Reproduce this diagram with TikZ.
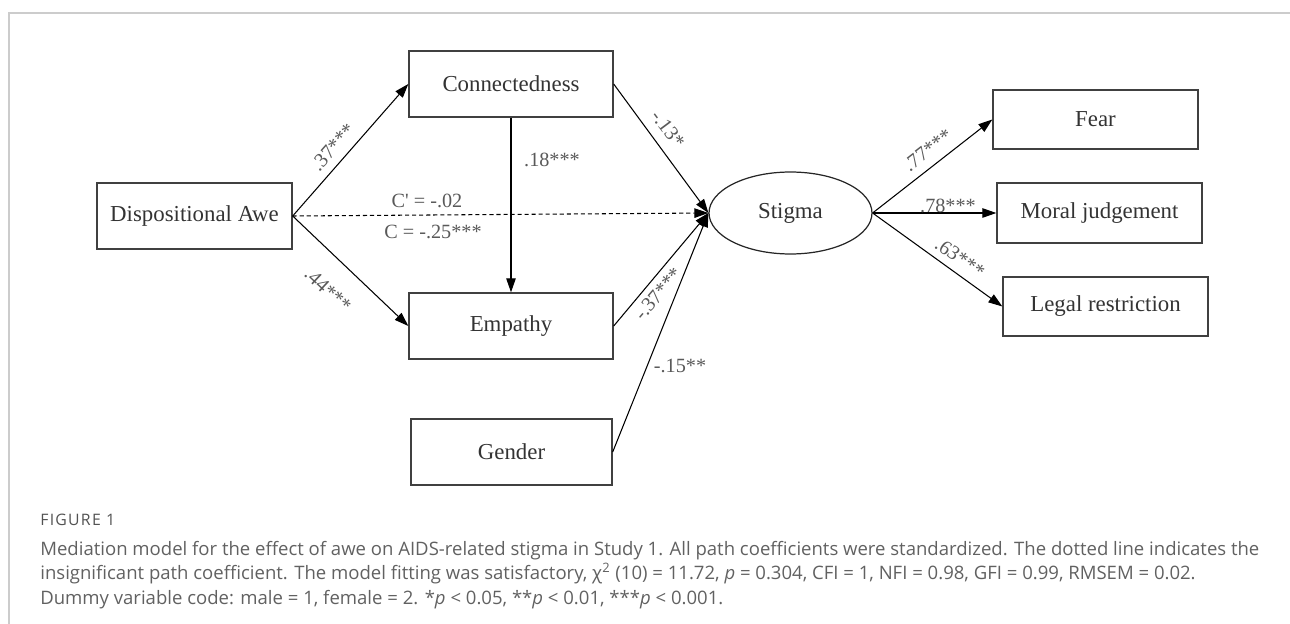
\documentclass[tikz,border=0pt]{standalone}
\usepackage{fontspec}
\setmainfont{Liberation Serif}
\newfontfamily\capfont{Open Sans}
\usetikzlibrary{shapes.geometric, arrows.meta, positioning}

\begin{document}
\begin{tikzpicture}[x=0.02cm, y=-0.02cm]
		\tikzstyle{Var} = [rectangle, minimum width=4.08cm, minimum height=1.32cm, inner sep=0pt, text centered, draw=black!75, line width=0.8pt, text=black!80, font=\fontsize{13}{15}\selectfont]
		\tikzstyle{Ind} = [Var, minimum width=4.1cm, minimum height=1.18cm]
		\tikzstyle{Latent} = [ellipse, minimum width=3.26cm, minimum height=1.64cm, inner sep=0pt, draw=black!85, line width=0.7pt, text=black!80, font=\fontsize{13}{15}\selectfont]
		\tikzstyle{Coef} = [inner sep=0pt, text=black!65, font=\fontsize{11.5}{13}\selectfont]
		\tikzstyle{arrow} = [line width=0.6pt, -{Triangle[length=2.8mm, width=1.9mm]}]
		\tikzstyle{Cap} = [anchor=base west, inner sep=0pt, text=black!62, font=\capfont\fontsize{10.55}{12}\selectfont]
		
		\useasboundingbox (0,0) rectangle (1290,624);
		\draw [black!20, line width=1.1pt] (9,624) -- (9,13) -- (1290,13);
		
		% variables
		\node (awe) [Var, minimum width=3.9cm] at (194.5,216) {Dispositional Awe};
		\node (conn) [Var] at (511,84) {Connectedness};
		\node (emp) [Var] at (511,326) {Empathy};
		\node (gen) [Var, minimum width=4.02cm] at (511.5,452) {Gender};
		\node (stig) [Latent] at (790.5,213) {Stigma};
		\node (fear) [Ind] at (1095.5,119.5) {Fear};
		\node (moral) [Ind, minimum height=1.2cm] at (1099.5,213) {Moral judgement};
		\node (legal) [Ind] at (1105.5,306.5) {Legal restriction};
		
		% paths
		\draw [arrow] (awe.east) -- (conn.west);
		\draw [arrow] (awe.east) -- (emp.west);
		\draw [arrow] (conn.south) -- (emp.north);
		\draw [arrow, dash pattern=on 2.3pt off 1.7pt] (awe.east) -- (stig.west);
		\draw [arrow] (conn.east) -- (stig.west);
		\draw [arrow] (emp.east) -- (stig.west);
		\draw [arrow] (gen.east) -- (stig.west);
		\draw [arrow] (stig.east) -- (fear.west);
		\draw [arrow] (stig.east) -- (moral.west);
		\draw [arrow] (stig.east) -- (legal.west);
		
		% coefficients
		\node (c1) [Coef, rotate=48.4] at (333,147) {.37***};
		\node (c2) [Coef, rotate=-43.2] at (328,290) {.44***};
		\node (c3) [Coef] at (552,160) {.18***};
		\node (c4) [Coef] at (427,201) {C\textquotesingle{} = -.02};
		\node (c5) [Coef] at (433,232) {C = -.25***};
		\node (c6) [Coef, rotate=-53.3] at (668,129) {-.13*};
		\node (c7) [Coef, rotate=49.6] at (658,294) {-.37***};
		\node (c8) [Coef] at (680,366) {-.15**};
		\node (c9) [Coef, rotate=37.7] at (928,150) {.77***};
		\node (c10) [Coef] at (948,206) {.78***};
		\node (c11) [Coef, rotate=-35.5] at (960,258) {.63***};
		
		% caption
		\node (fig) [Cap, text=black!68, font=\capfont\fontsize{9}{10}\selectfont\addfontfeature{LetterSpace=8}] at (40,525) {FIGURE 1};
		\node (cap1) [Cap] at (40,555) {Mediation model for the effect of awe on AIDS-related stigma in Study 1. All path coefficients were standardized. The dotted line indicates the};
		\node (cap2) [Cap] at (40,579.5) {insignificant path coefficient. The model fitting was satisfactory, χ\textsuperscript{2} (10) = 11.72, \textit{p} = 0.304, CFI = 1, NFI = 0.98, GFI = 0.99, RMSEM = 0.02.};
		\node (cap3) [Cap] at (40,604) {Dummy variable code: male = 1, female = 2. *\textit{p} < 0.05, **\textit{p} < 0.01, ***\textit{p} < 0.001.};
\end{tikzpicture}
\end{document}
